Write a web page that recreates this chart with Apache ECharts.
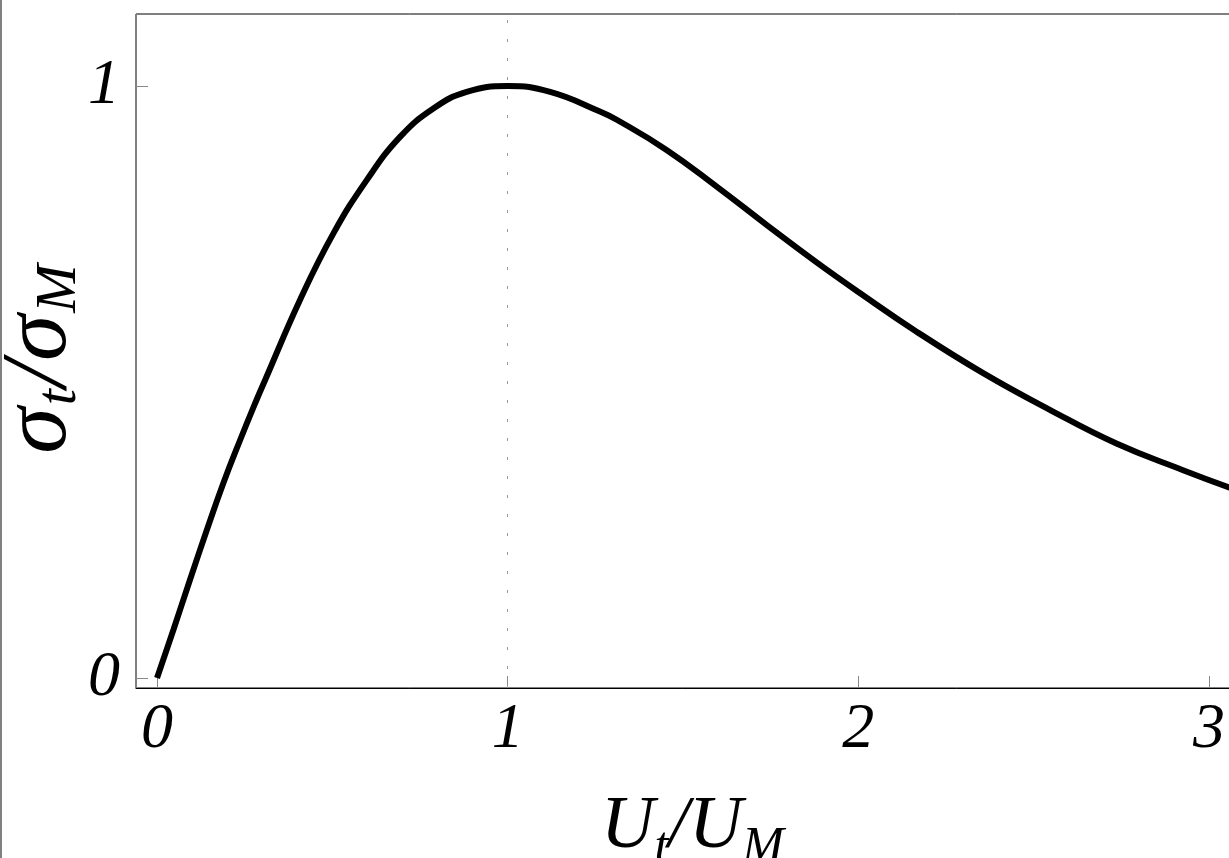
<!DOCTYPE html>
<html lang="en">

<head>
  <meta charset="UTF-8">
  <title>Cross section vs energy</title>
  <script src="https://cdn.jsdelivr.net/npm/echarts@6/dist/echarts.min.js"></script>
  <style>
    html, body { margin: 0; padding: 0; background: #fff; }
    #chart { width: 1229px; height: 858px; }
  </style>
</head>

<body>
  <div id="chart"></div>

  <script>
    // U_t/U_M
    var aX = [0, 0.047, 0.094, 0.142, 0.189, 0.237, 0.284, 0.308, 0.408, 0.503,
      0.598, 0.693, 0.788, 0.883, 1.0, 1.121, 1.263, 1.311, 1.453, 1.596,
      1.739, 1.881, 2.0, 2.166, 2.356, 2.546, 2.736, 2.926, 3.057, 3.11];
    // sigma_t/sigma_M
    var aY = [0, 0.082, 0.166, 0.250, 0.329, 0.402, 0.470, 0.503, 0.639, 0.751,
      0.841, 0.914, 0.962, 0.990, 1.0, 0.990, 0.957, 0.943, 0.892, 0.830,
      0.765, 0.702, 0.652, 0.585, 0.515, 0.453, 0.396, 0.351, 0.322, 0.312];
    var aXTicks = [0, 1, 2, 3];
    var aYTicks = [0, 1];
    var aPeak = [1];

    var aData = [];
    for (var i = 0; i < aX.length; i++) {
      aData.push([aX[i], aY[i]]);
    }

    var sFont = '"Liberation Serif", "DejaVu Serif", serif';
    var oNameRich = {
      i: { fontFamily: sFont, fontStyle: 'italic', fontSize: 94, lineHeight: 80, color: '#000' },
      s: { fontFamily: sFont, fontStyle: 'italic', fontSize: 58, lineHeight: 46, padding: [40, 2, 0, 2], color: '#000' }
    };

    var oChart = echarts.init(document.getElementById('chart'));
    var chartopt = {
      animation: false,
      backgroundColor: '#fff',
      grid: {
        show: true,
        left: 136,
        top: 14,
        right: -20,
        bottom: 170,
        containLabel: false,
        outerBoundsMode: 'none',
        borderColor: '#000',
        borderWidth: 1
      },
      xAxis: {
        type: 'value',
        min: -0.06,
        max: 3.114,
        name: '{i|U}{s|t}{i|/U}{s|M}',
        nameLocation: 'middle',
        nameGap: 103,
        nameTextStyle: {
          rich: {
            i: { fontFamily: sFont, fontStyle: 'italic', fontSize: 74, lineHeight: 74, color: '#000' },
            s: { fontFamily: sFont, fontStyle: 'italic', fontSize: 50, lineHeight: 40, padding: [40, 0, 0, 0], color: '#000' }
          }
        },
        splitLine: { show: false },
        axisLine: { onZero: false, lineStyle: { color: '#000', width: 1 } },
        axisTick: {
          show: true,
          inside: true,
          length: 12,
          customValues: aXTicks,
          lineStyle: { color: '#888' }
        },
        axisLabel: {
          customValues: aXTicks,
          margin: 10,
          fontFamily: sFont,
          fontStyle: 'italic',
          fontSize: 64,
          color: '#000'
        }
      },
      yAxis: {
        type: 'value',
        min: -0.0169,
        max: 1.1216,
        splitLine: { show: false },
        axisLine: { onZero: false, lineStyle: { color: '#808080', width: 1 } },
        axisTick: {
          show: true,
          inside: true,
          length: 12,
          customValues: aYTicks,
          lineStyle: { color: '#888' }
        },
        axisLabel: {
          customValues: aYTicks,
          margin: 16,
          fontFamily: sFont,
          fontStyle: 'italic',
          fontSize: 64,
          color: '#000'
        }
      },
      graphic: [
        {
          type: 'line',
          shape: { x1: 1, y1: 0, x2: 1, y2: 858 },
          style: { stroke: '#808080', lineWidth: 2 }
        },
        {
          // y axis title, rotated
          type: 'text',
          x: 40,
          y: 358,
          rotation: Math.PI / 2,
          style: {
            text: '{i|σ}{s|t}{i|/σ}{s|M}',
            rich: oNameRich,
            align: 'center',
            verticalAlign: 'middle'
          }
        }
      ],
      series: [
        {
          type: 'line',
          data: aData,
          smooth: 0.45,
          showSymbol: false,
          lineStyle: { color: '#000', width: 6 },
          markLine: {
            silent: true,
            symbol: 'none',
            label: { show: false },
            lineStyle: { color: '#999', width: 1, type: [3, 16] },
            data: aPeak.map(function (v) { return { xAxis: v }; })
          }
        }
      ]
    };
    oChart.setOption(chartopt);
  </script>
</body>

</html>
